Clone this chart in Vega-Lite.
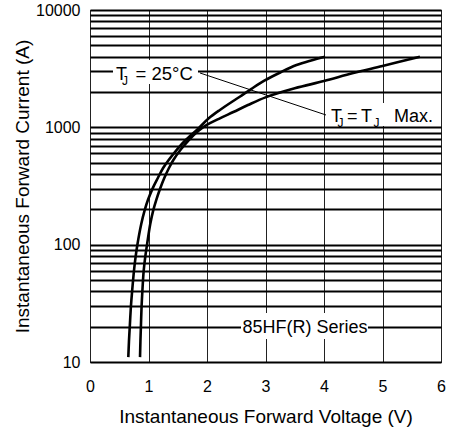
{
  "$schema": "https://vega.github.io/schema/vega-lite/v6.json",
  "width": 351,
  "height": 352,
  "autosize": "none",
  "padding": {"left": 90, "top": 10, "right": 8, "bottom": 70},
  "background": "white",
  "config": {
    "font": "Liberation Sans",
    "view": {"stroke": "black", "strokeWidth": 1}
  },
  "datasets": {
    "curves": [
      {"series": "25C", "v": 0.655, "i": 11},
      {"series": "25C", "v": 0.666, "i": 15},
      {"series": "25C", "v": 0.680, "i": 20},
      {"series": "25C", "v": 0.700, "i": 30},
      {"series": "25C", "v": 0.720, "i": 40},
      {"series": "25C", "v": 0.752, "i": 60},
      {"series": "25C", "v": 0.780, "i": 79},
      {"series": "25C", "v": 0.810, "i": 100},
      {"series": "25C", "v": 0.876, "i": 150},
      {"series": "25C", "v": 0.935, "i": 197},
      {"series": "25C", "v": 0.99, "i": 240},
      {"series": "25C", "v": 1.075, "i": 305},
      {"series": "25C", "v": 1.16, "i": 370},
      {"series": "25C", "v": 1.25, "i": 450},
      {"series": "25C", "v": 1.345, "i": 527},
      {"series": "25C", "v": 1.49, "i": 650},
      {"series": "25C", "v": 1.635, "i": 780},
      {"series": "25C", "v": 1.855, "i": 980},
      {"series": "25C", "v": 2.03, "i": 1194},
      {"series": "25C", "v": 2.22, "i": 1406},
      {"series": "25C", "v": 2.56, "i": 1824},
      {"series": "25C", "v": 2.76, "i": 2130},
      {"series": "25C", "v": 2.98, "i": 2500},
      {"series": "25C", "v": 3.26, "i": 2950},
      {"series": "25C", "v": 3.53, "i": 3398},
      {"series": "25C", "v": 3.78, "i": 3720},
      {"series": "25C", "v": 4.02, "i": 4000},
      {"series": "max", "v": 0.855, "i": 11},
      {"series": "max", "v": 0.862, "i": 15},
      {"series": "max", "v": 0.870, "i": 20},
      {"series": "max", "v": 0.882, "i": 30},
      {"series": "max", "v": 0.895, "i": 40},
      {"series": "max", "v": 0.918, "i": 60},
      {"series": "max", "v": 0.945, "i": 79},
      {"series": "max", "v": 0.975, "i": 100},
      {"series": "max", "v": 1.03, "i": 150},
      {"series": "max", "v": 1.082, "i": 197},
      {"series": "max", "v": 1.132, "i": 240},
      {"series": "max", "v": 1.198, "i": 300},
      {"series": "max", "v": 1.27, "i": 370},
      {"series": "max", "v": 1.35, "i": 450},
      {"series": "max", "v": 1.425, "i": 527},
      {"series": "max", "v": 1.555, "i": 650},
      {"series": "max", "v": 1.69, "i": 780},
      {"series": "max", "v": 1.86, "i": 940},
      {"series": "max", "v": 1.97, "i": 1030},
      {"series": "max", "v": 2.22, "i": 1194},
      {"series": "max", "v": 2.45, "i": 1350},
      {"series": "max", "v": 2.70, "i": 1549},
      {"series": "max", "v": 3.0, "i": 1800},
      {"series": "max", "v": 3.5, "i": 2150},
      {"series": "max", "v": 4.0, "i": 2480},
      {"series": "max", "v": 4.5, "i": 2900},
      {"series": "max", "v": 5.0, "i": 3330},
      {"series": "max", "v": 5.64, "i": 4000}
    ]
  },
  "layer": [
    {
      "data": {"name": "curves"},
      "mark": {"type": "line", "color": "black", "strokeWidth": 2.6, "interpolate": "catmull-rom"},
      "encoding": {
        "x": {
          "field": "v", "type": "quantitative",
          "scale": {"domain": [0, 6], "nice": false, "zero": false},
          "axis": {
            "title": "Instantaneous Forward Voltage (V)",
            "values": [0, 1, 2, 3, 4, 5, 6],
            "format": "d",
            "grid": true, "gridColor": "#222", "gridWidth": 1,
            "ticks": false, "tickSize": 0, "domain": false,
            "labelFontSize": 16, "labelColor": "black", "labelPadding": 16, "labelFlush": false,
            "labelFont": "Liberation Sans",
            "titleFont": "Liberation Sans", "titleFontSize": 19, "titleFontWeight": "normal", "titleColor": "black",
            "titleX": 175.5, "titleY": 60, "titleBaseline": "alphabetic", "titleAlign": "center"
          }
        },
        "y": {
          "field": "i", "type": "quantitative",
          "scale": {"type": "log", "domain": [10, 10000], "nice": false},
          "axis": {
            "title": "Instantaneous Forward Current (A)",
            "values": [10, 20, 30, 40, 50, 60, 70, 80, 90, 100, 200, 300, 400, 500, 600, 700, 800, 900, 1000, 2000, 3000, 4000, 5000, 6000, 7000, 8000, 9000, 10000],
            "format": "d",
            "labelExpr": "indexof([10, 100, 1000, 10000], datum.value) >= 0 ? datum.label : ''",
            "labelOverlap": false,
            "grid": true, "gridColor": "black", "gridWidth": 2,
            "ticks": false, "tickSize": 0, "domain": false,
            "labelFontSize": 16, "labelColor": "black", "labelPadding": 10, "labelFlush": false,
            "labelFont": "Liberation Sans",
            "titleFont": "Liberation Sans", "titleFontSize": 19, "titleFontWeight": "normal", "titleColor": "black",
            "titleAngle": 270, "titleX": -62, "titleY": 176, "titleBaseline": "alphabetic", "titleAlign": "center"
          }
        },
        "detail": {"field": "series"}
      }
    },
    {
      "data": {"values": [{}]},
      "mark": {"type": "rect", "color": "white"},
      "encoding": {
        "x": {"datum": 0.393, "type": "quantitative"}, "x2": {"datum": 1.846},
        "y": {"datum": 3749, "type": "quantitative"}, "y2": {"datum": 2341}
      }
    },
    {
      "data": {"values": [{}]},
      "mark": {"type": "rect", "color": "white"},
      "encoding": {
        "x": {"datum": 4.0684, "type": "quantitative"}, "x2": {"datum": 5.8632},
        "y": {"datum": 1612, "type": "quantitative"}, "y2": {"datum": 1027}
      }
    },
    {
      "data": {"values": [{}]},
      "mark": {"type": "rect", "color": "white"},
      "encoding": {
        "x": {"datum": 2.5812, "type": "quantitative"}, "x2": {"datum": 4.7521},
        "y": {"datum": 26.16, "type": "quantitative"}, "y2": {"datum": 15.70}
      }
    },
    {
      "data": {"values": [{}]},
      "mark": {"type": "rule", "color": "black", "strokeWidth": 1},
      "encoding": {
        "x": {"datum": 1.8803, "type": "quantitative"}, "x2": {"datum": 4.0342},
        "y": {"datum": 2905, "type": "quantitative"}, "y2": {"datum": 1274}
      }
    },
    {
      "data": {"values": [{}]},
      "mark": {"type": "text", "text": "T", "align": "left", "baseline": "alphabetic", "fontSize": 18, "font": "Liberation Sans", "color": "black"},
      "encoding": {"x": {"datum": 0.4444, "type": "quantitative"}, "y": {"datum": 2532, "type": "quantitative"}}
    },
    {
      "data": {"values": [{}]},
      "mark": {"type": "text", "text": "J", "align": "left", "baseline": "alphabetic", "fontSize": 12, "font": "Liberation Sans", "color": "black"},
      "encoding": {"x": {"datum": 0.547, "type": "quantitative"}, "y": {"datum": 2295, "type": "quantitative"}}
    },
    {
      "data": {"values": [{}]},
      "mark": {"type": "text", "text": "= 25°C", "align": "left", "baseline": "alphabetic", "fontSize": 18.5, "font": "Liberation Sans", "color": "black"},
      "encoding": {"x": {"datum": 0.7778, "type": "quantitative"}, "y": {"datum": 2532, "type": "quantitative"}}
    },
    {
      "data": {"values": [{}]},
      "mark": {"type": "text", "text": "T", "align": "left", "baseline": "alphabetic", "fontSize": 18, "font": "Liberation Sans", "color": "black"},
      "encoding": {"x": {"datum": 4.1197, "type": "quantitative"}, "y": {"datum": 1117, "type": "quantitative"}}
    },
    {
      "data": {"values": [{}]},
      "mark": {"type": "text", "text": "J", "align": "left", "baseline": "alphabetic", "fontSize": 12, "font": "Liberation Sans", "color": "black"},
      "encoding": {"x": {"datum": 4.2308, "type": "quantitative"}, "y": {"datum": 996.8, "type": "quantitative"}}
    },
    {
      "data": {"values": [{}]},
      "mark": {"type": "text", "text": "=", "align": "left", "baseline": "alphabetic", "fontSize": 18, "font": "Liberation Sans", "color": "black"},
      "encoding": {"x": {"datum": 4.3932, "type": "quantitative"}, "y": {"datum": 1117, "type": "quantitative"}}
    },
    {
      "data": {"values": [{}]},
      "mark": {"type": "text", "text": "T", "align": "left", "baseline": "alphabetic", "fontSize": 18, "font": "Liberation Sans", "color": "black"},
      "encoding": {"x": {"datum": 4.6325, "type": "quantitative"}, "y": {"datum": 1117, "type": "quantitative"}}
    },
    {
      "data": {"values": [{}]},
      "mark": {"type": "text", "text": "J", "align": "left", "baseline": "alphabetic", "fontSize": 12, "font": "Liberation Sans", "color": "black"},
      "encoding": {"x": {"datum": 4.8462, "type": "quantitative"}, "y": {"datum": 996.8, "type": "quantitative"}}
    },
    {
      "data": {"values": [{}]},
      "mark": {"type": "text", "text": "Max.", "align": "left", "baseline": "alphabetic", "fontSize": 18, "font": "Liberation Sans", "color": "black"},
      "encoding": {"x": {"datum": 5.1966, "type": "quantitative"}, "y": {"datum": 1117, "type": "quantitative"}}
    },
    {
      "data": {"values": [{}]},
      "mark": {"type": "text", "text": "85HF(R) Series", "align": "center", "baseline": "alphabetic", "fontSize": 18, "font": "Liberation Sans", "color": "black"},
      "encoding": {"x": {"datum": 3.6752, "type": "quantitative"}, "y": {"datum": 17.56, "type": "quantitative"}}
    }
  ]
}
